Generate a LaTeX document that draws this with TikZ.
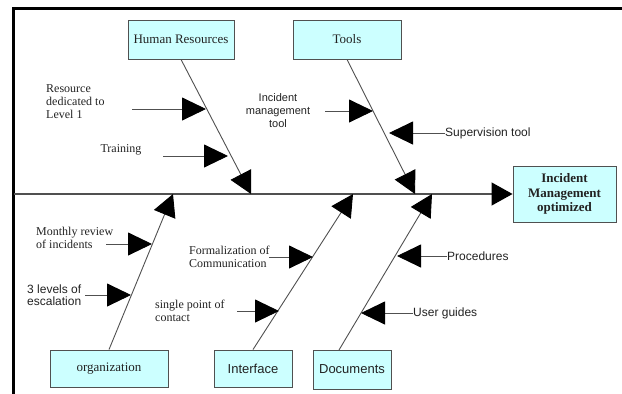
\documentclass[tikz,border=0pt]{standalone}
\usepackage{fontspec}
\setmainfont{Liberation Serif}
\newfontfamily\sanslab{Liberation Sans}
\usetikzlibrary{arrows.meta}
\definecolor{boxfill}{HTML}{CCFFFF}
\definecolor{linegray}{HTML}{505050}
\definecolor{textgray}{HTML}{222222}
\begin{document}
\begin{tikzpicture}[x=1pt,y=-1pt,
  catbox/.style={draw=linegray, line width=0.9pt, fill=boxfill, inner sep=0pt, minimum height=39pt, font=\fontsize{13}{15}\selectfont, text=textgray},
  bone/.style={draw=linegray, line width=0.9pt, -{Triangle[length=22pt,width=23pt,color=black]}},
  spineline/.style={draw=linegray, line width=1.2pt, -{Triangle[length=21pt,width=23pt,color=black]}},
  cause/.style={draw=linegray, line width=0.9pt, -{Triangle[length=24pt,width=23pt,color=black]}},
  serlab/.style={font=\fontsize{12}{13}\selectfont, text=textgray, inner sep=0pt, align=left},
  sanlab/.style={font=\sanslab\fontsize{12}{12.5}\selectfont, text=textgray, inner sep=0pt, align=left},
  frameline/.style={line width=3pt, draw=black}
]
\useasboundingbox (0,0) rectangle (622,394);
\draw[frameline] (13.5,394) -- (13.5,8.5) -- (622,8.5);

% category boxes
\node[catbox, minimum width=106pt] (hr) at (181,39.5) {Human Resources};
\node[catbox, minimum width=108pt] (tools) at (347,39.5) {Tools};
\node[catbox, minimum width=103pt, minimum height=56pt, font=\bfseries\fontsize{13}{14.5}\selectfont, align=center] (im) at (564.5,194) {Incident\\Management\\optimized};
\node[catbox, minimum width=118pt, minimum height=37pt] (org) at (109,368.5) {organization};
\node[catbox, minimum width=78pt, minimum height=37pt, font=\sanslab\fontsize{13}{15}\selectfont] (intf) at (253,368.5) {Interface};
\node[catbox, minimum width=78pt, minimum height=39pt, font=\sanslab\fontsize{13}{15}\selectfont] (docs) at (352,369.5) {Documents};

% spine and bones
\coordinate (s0) at (14,194);
\coordinate (hrt) at (251,194);
\coordinate (tlt) at (415,194);
\coordinate (ort) at (173,194);
\coordinate (ift) at (353,194);
\coordinate (dct) at (432,194);
\coordinate (dcs) at (339,350);
\draw[spineline] (s0) -- (im.west);
\draw[bone] (hr.south) -- (hrt);
\draw[bone] (tools.south) -- (tlt);
\draw[bone] (org.north) -- (ort);
\draw[bone] (intf.north) -- (ift);
\draw[bone] (dcs) -- (dct);

% causes
\node[serlab, anchor=west] (l1) at (46,102) {Resource\\dedicated to\\Level 1};
\coordinate (l1a) at (132,109); \coordinate (l1b) at (206,109);
\draw[cause] (l1a) -- (l1b);

\node[serlab] (l2) at (121,150) {Training};
\coordinate (l2a) at (163,156); \coordinate (l2b) at (228,156);
\draw[cause] (l2a) -- (l2b);

\node[sanlab, align=center, font=\sanslab\fontsize{11}{13}\selectfont] (l3) at (278,111) {Incident\\management\\tool};
\coordinate (l3a) at (325,111); \coordinate (l3b) at (373,111);
\draw[cause] (l3a) -- (l3b);

\node[sanlab, anchor=west] (l4) at (445,133) {Supervision tool};
\coordinate (l4b) at (389,133);
\draw[cause] (l4.west) -- (l4b);

\node[serlab, anchor=west] (l5) at (36,238) {Monthly review\\of incidents};
\coordinate (l5a) at (106,244); \coordinate (l5b) at (152,244);
\draw[cause] (l5a) -- (l5b);

\node[sanlab, anchor=west] (l6) at (27,295) {3 levels of\\escalation};
\coordinate (l6a) at (85,295); \coordinate (l6b) at (131,295);
\draw[cause] (l6a) -- (l6b);

\node[serlab, anchor=west] (l7) at (189,256.5) {Formalization of\\Communication};
\coordinate (l7a) at (269,257); \coordinate (l7b) at (313,257);
\draw[cause] (l7a) -- (l7b);

\node[serlab, anchor=west] (l8) at (155,310.5) {single point of\\contact};
\coordinate (l8a) at (237,311); \coordinate (l8b) at (279,311);
\draw[cause] (l8a) -- (l8b);

\node[sanlab, anchor=west] (l9) at (447,256) {Procedures};
\coordinate (l9b) at (397,256);
\draw[cause] (l9.west) -- (l9b);

\node[sanlab, anchor=west] (l10) at (413,313) {User guides};
\coordinate (l10b) at (361,313);
\draw[cause] (l10.west) -- (l10b);
\end{tikzpicture}
\end{document}
